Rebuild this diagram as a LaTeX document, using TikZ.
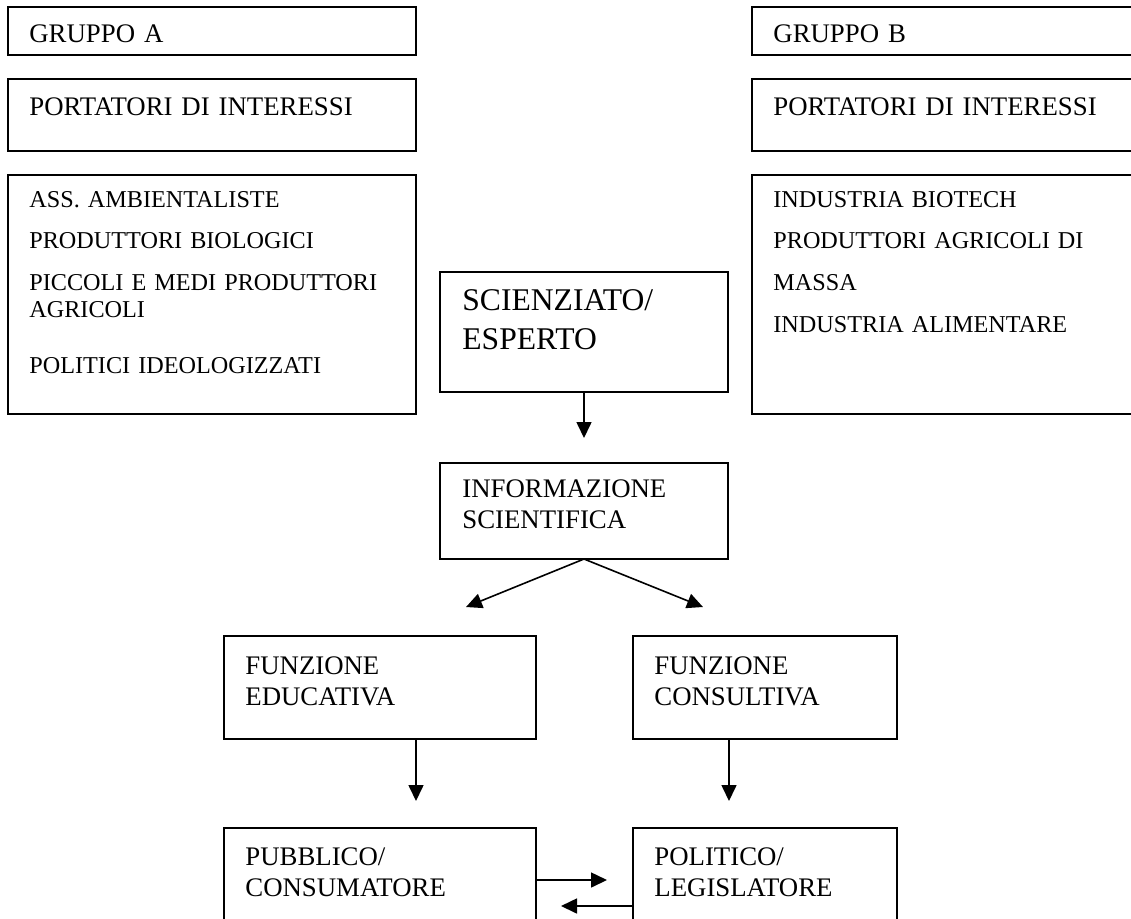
\documentclass[tikz,border=0pt]{standalone}
\usepackage{fontspec}
\setmainfont{Liberation Serif}
\usetikzlibrary{arrows.meta}

\begin{document}
\begin{tikzpicture}[
    x=0.5pt, y=-0.5pt,
    box/.style={rectangle, draw, line width=0.9pt, anchor=north west, inner sep=0pt, outer sep=0pt},
    txt/.style={anchor=base west, inner sep=0pt, text width=220pt, align=left, font=\fontsize{13.4}{15.5}\selectfont},
    listtxt/.style={txt, font=\fontsize{12.1}{14}\selectfont},
    bigtxt/.style={txt, font=\fontsize{15.8}{19.5}\selectfont},
    arr/.style={line width=0.8pt, -{Triangle[length=8pt, width=7.5pt]}}
]
    \useasboundingbox (0,0) rectangle (1131,918);
    \clip (0,0) rectangle (1131,918);

    % Gruppo A
    \node[box, minimum width=204pt, minimum height=24pt] (ga) at (8,7) {};
    \node[txt] (gatxt) at (29,42) {GRUPPO A};
    \node[box, minimum width=204pt, minimum height=36pt] (pa) at (8,79) {};
    \node[txt] (patxt) at (29,115) {PORTATORI DI INTERESSI};
    \node[box, minimum width=204pt, minimum height=119.5pt] (la) at (8,175) {};
    \node[listtxt] (latxt) at (29,207) {ASS. AMBIENTALISTE\\[6.5pt]
        PRODUTTORI BIOLOGICI\\[7pt]
        PICCOLI E MEDI PRODUTTORI\\[-0.5pt]
        AGRICOLI\\[14pt]
        POLITICI IDEOLOGIZZATI};

    % Gruppo B
    \node[box, minimum width=210pt, minimum height=24pt] (gb) at (752,7) {};
    \node[txt] (gbtxt) at (773,42) {GRUPPO B};
    \node[box, minimum width=210pt, minimum height=36pt] (pb) at (752,79) {};
    \node[txt] (pbtxt) at (773,115) {PORTATORI DI INTERESSI};
    \node[box, minimum width=210pt, minimum height=119.5pt] (lb) at (752,175) {};
    \node[listtxt] (lbtxt) at (773,207) {INDUSTRIA BIOTECH\\[6.5pt]
        PRODUTTORI AGRICOLI DI\\[7pt]
        MASSA\\[7pt]
        INDUSTRIA ALIMENTARE};

    % centro
    \node[box, minimum width=144pt, minimum height=60pt] (sci) at (440,272) {};
    \node[bigtxt] (scitxt) at (462,310) {SCIENZIATO/\\ESPERTO};
    \node[box, minimum width=144pt, minimum height=48pt] (info) at (440,463) {};
    \node[txt] (infotxt) at (462,497) {INFORMAZIONE\\SCIENTIFICA};

    % funzioni
    \node[box, minimum width=156pt, minimum height=51.5pt] (edu) at (224,636) {};
    \node[txt] (edutxt) at (245,674) {FUNZIONE\\EDUCATIVA};
    \node[box, minimum width=132pt, minimum height=51.5pt] (cons) at (633,636) {};
    \node[txt] (constxt) at (654,674) {FUNZIONE\\CONSULTIVA};

    % destinatari
    \node[box, minimum width=156pt, minimum height=60pt] (pub) at (224,828) {};
    \node[txt] (pubtxt) at (245,865) {PUBBLICO/\\CONSUMATORE};
    \node[box, minimum width=132pt, minimum height=60pt] (pol) at (633,828) {};
    \node[txt] (poltxt) at (654,865) {POLITICO/\\LEGISLATORE};

    % punte delle frecce
    \coordinate (sciend) at (584,438);
    \coordinate (eduend) at (466,607);
    \coordinate (consend) at (703,607);
    \coordinate (pubend) at (416,801);
    \coordinate (polend) at (729,801);
    \coordinate (toright) at (607,880);
    \coordinate (toleft) at (561,906);

    \draw[arr] (sci.south) -- (sciend);
    \draw[arr] (info.south) -- (eduend);
    \draw[arr] (info.south) -- (consend);
    \draw[arr] ([xshift=18pt]edu.south) -- (pubend);
    \draw[arr] ([xshift=-18pt]cons.south) -- (polend);
    \draw[arr] ([yshift=-26pt]pub.north east) -- (toright);
    \draw[arr] ([yshift=-39pt]pol.north west) -- (toleft);
\end{tikzpicture}
\end{document}
